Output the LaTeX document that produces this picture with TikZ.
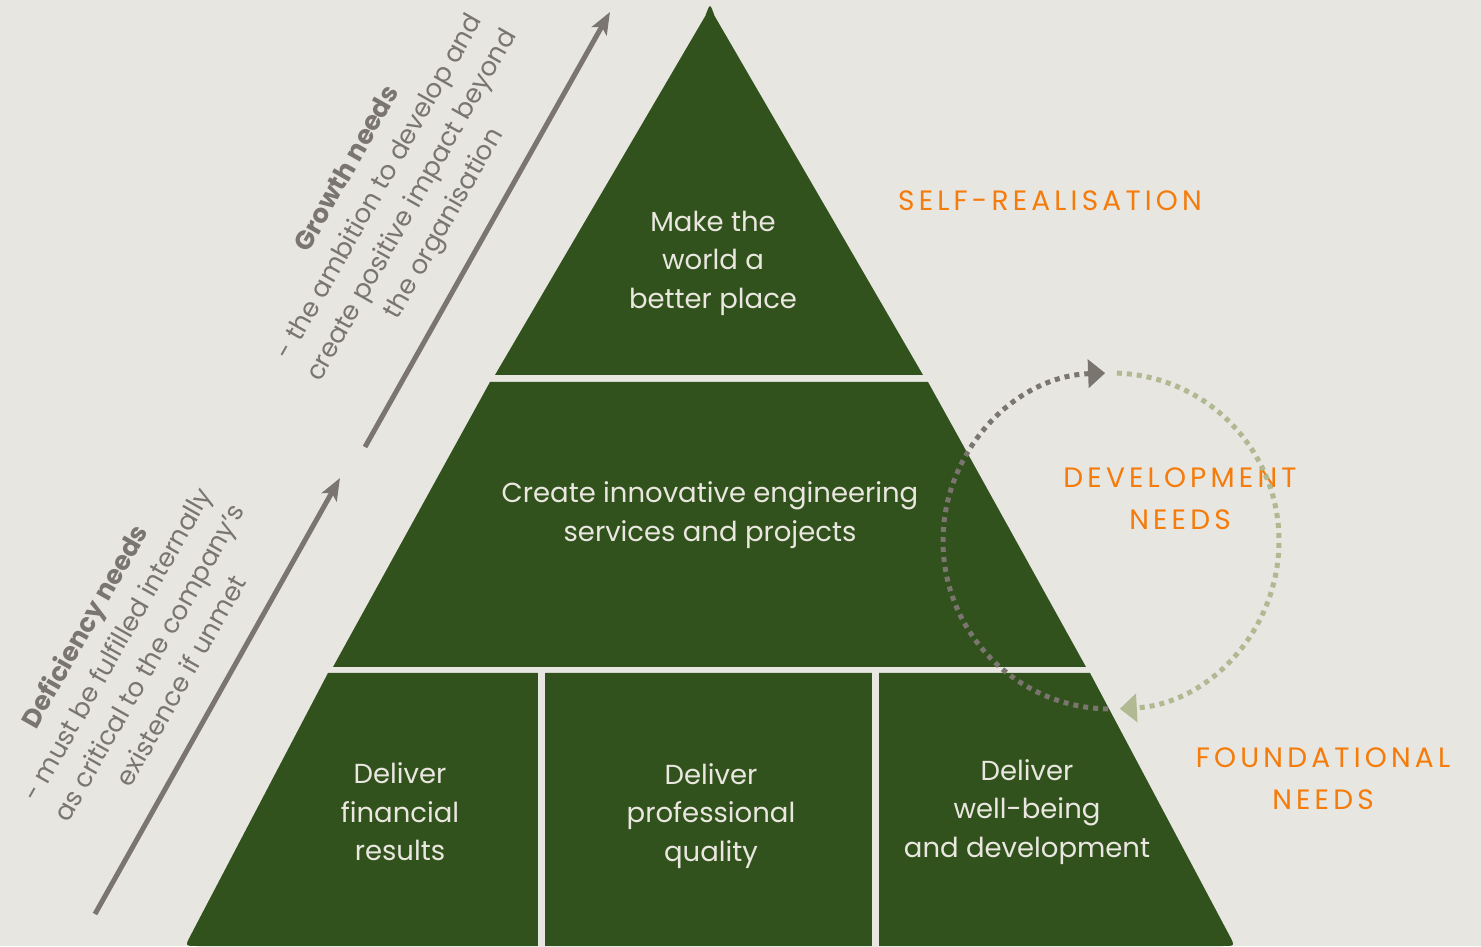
\documentclass[tikz,border=0pt]{standalone}
\usepackage{fontspec}
\setmainfont{Poppins}
\newfontfamily\capsfont[LetterSpace=15]{Poppins}
\usetikzlibrary{arrows.meta}

\definecolor{bgcol}{HTML}{E7E6E1}
\definecolor{leaf}{HTML}{32521D}
\definecolor{chalk}{HTML}{E9E7DF}
\definecolor{stone}{HTML}{7A756E}
\definecolor{sage}{HTML}{B0B991}
\definecolor{tangerine}{HTML}{F57B0A}

\begin{document}
\begin{tikzpicture}[x=1pt,y=1pt]
\fill[bgcol] (0,0) rectangle (1481,946);
\useasboundingbox (0,0) rectangle (1481,946);
% pyramid
\fill[leaf] (495,571) -- (705.4,930.2) .. controls (710,943) .. (714.5,930.2) -- (923,571) -- cycle;
\fill[leaf] (333,279) -- (490,564) -- (928,564) -- (1086,279) -- cycle;
\fill[leaf] (197,0) .. controls (185,0) .. (190.6,10.6) -- (328,273) -- (1090,273)
  -- (1229.4,10.6) .. controls (1235,0) .. (1223,0) -- cycle;
\draw[bgcol, line width=7pt] (541.5,-2) -- (541.5,275);
\draw[bgcol, line width=7pt] (875.5,-2) -- (875.5,275);
\begin{scope}[every node/.style={text=chalk, align=center, font=\fontsize{27.5}{38.5}\selectfont}]
	\node (top) at (713,683) {Make the\\world a\\better place};
	\node (mid) at (710,431) {Create innovative engineering\\services and projects};
	\node (fin) at (400,134) {Deliver\\financial\\results};
	\node (prof) at (711,130) {Deliver\\professional\\quality};
	\node (well) at (1027,134) {Deliver\\well-being\\and development};
\end{scope}
\begin{scope}[every node/.style={text=tangerine, align=center, font=\capsfont\fontsize{28}{42}\selectfont}]
	\node (self) at (1050,745) {SELF-REALISATION};
	\node (dev) at (1180,447) {DEVELOPMENT\\NEEDS};
	\node (found) at (1323,167) {FOUNDATIONAL\\NEEDS};
\end{scope}
% side arrows
\begin{scope}[every node/.style={text=stone, align=center, rotate=60.5, font=\fontsize{26}{37}\selectfont}]
	\node (defic) at (132,293) {{\bfseries Deficiency needs}\\- must be fulfilled internally\\as critical to the company’s\\existence if unmet};
	\node (growth) at (397,749) {{\bfseries Growth needs}\\- the ambition to develop and\\create positive impact beyond\\the organisation};
\end{scope}
\coordinate (defTail) at (95,32);
\coordinate (defHead) at (340,468);
\coordinate (grTail) at (365,499);
\coordinate (grHead) at (610,934);
\begin{scope}[line width=5pt, draw=stone, >={Stealth[length=22pt,width=17pt,inset=5pt]}]
	\draw[->] (defTail) -- (defHead);
	\draw[->] (grTail) -- (grHead);
\end{scope}
% development cycle
\coordinate (cyc) at (1111,405);
\begin{scope}[line width=5pt, dash pattern=on 5pt off 5pt, >={Triangle[length=17pt,width=28pt]}]
	\draw[stone, ->] ([shift={(-91:168)}]cyc) arc[start angle=-91, end angle=-268, radius=168];
	\draw[sage, ->] ([shift={(88:168)}]cyc) arc[start angle=88, end angle=-87, radius=168];
\end{scope}
\end{tikzpicture}
\end{document}
